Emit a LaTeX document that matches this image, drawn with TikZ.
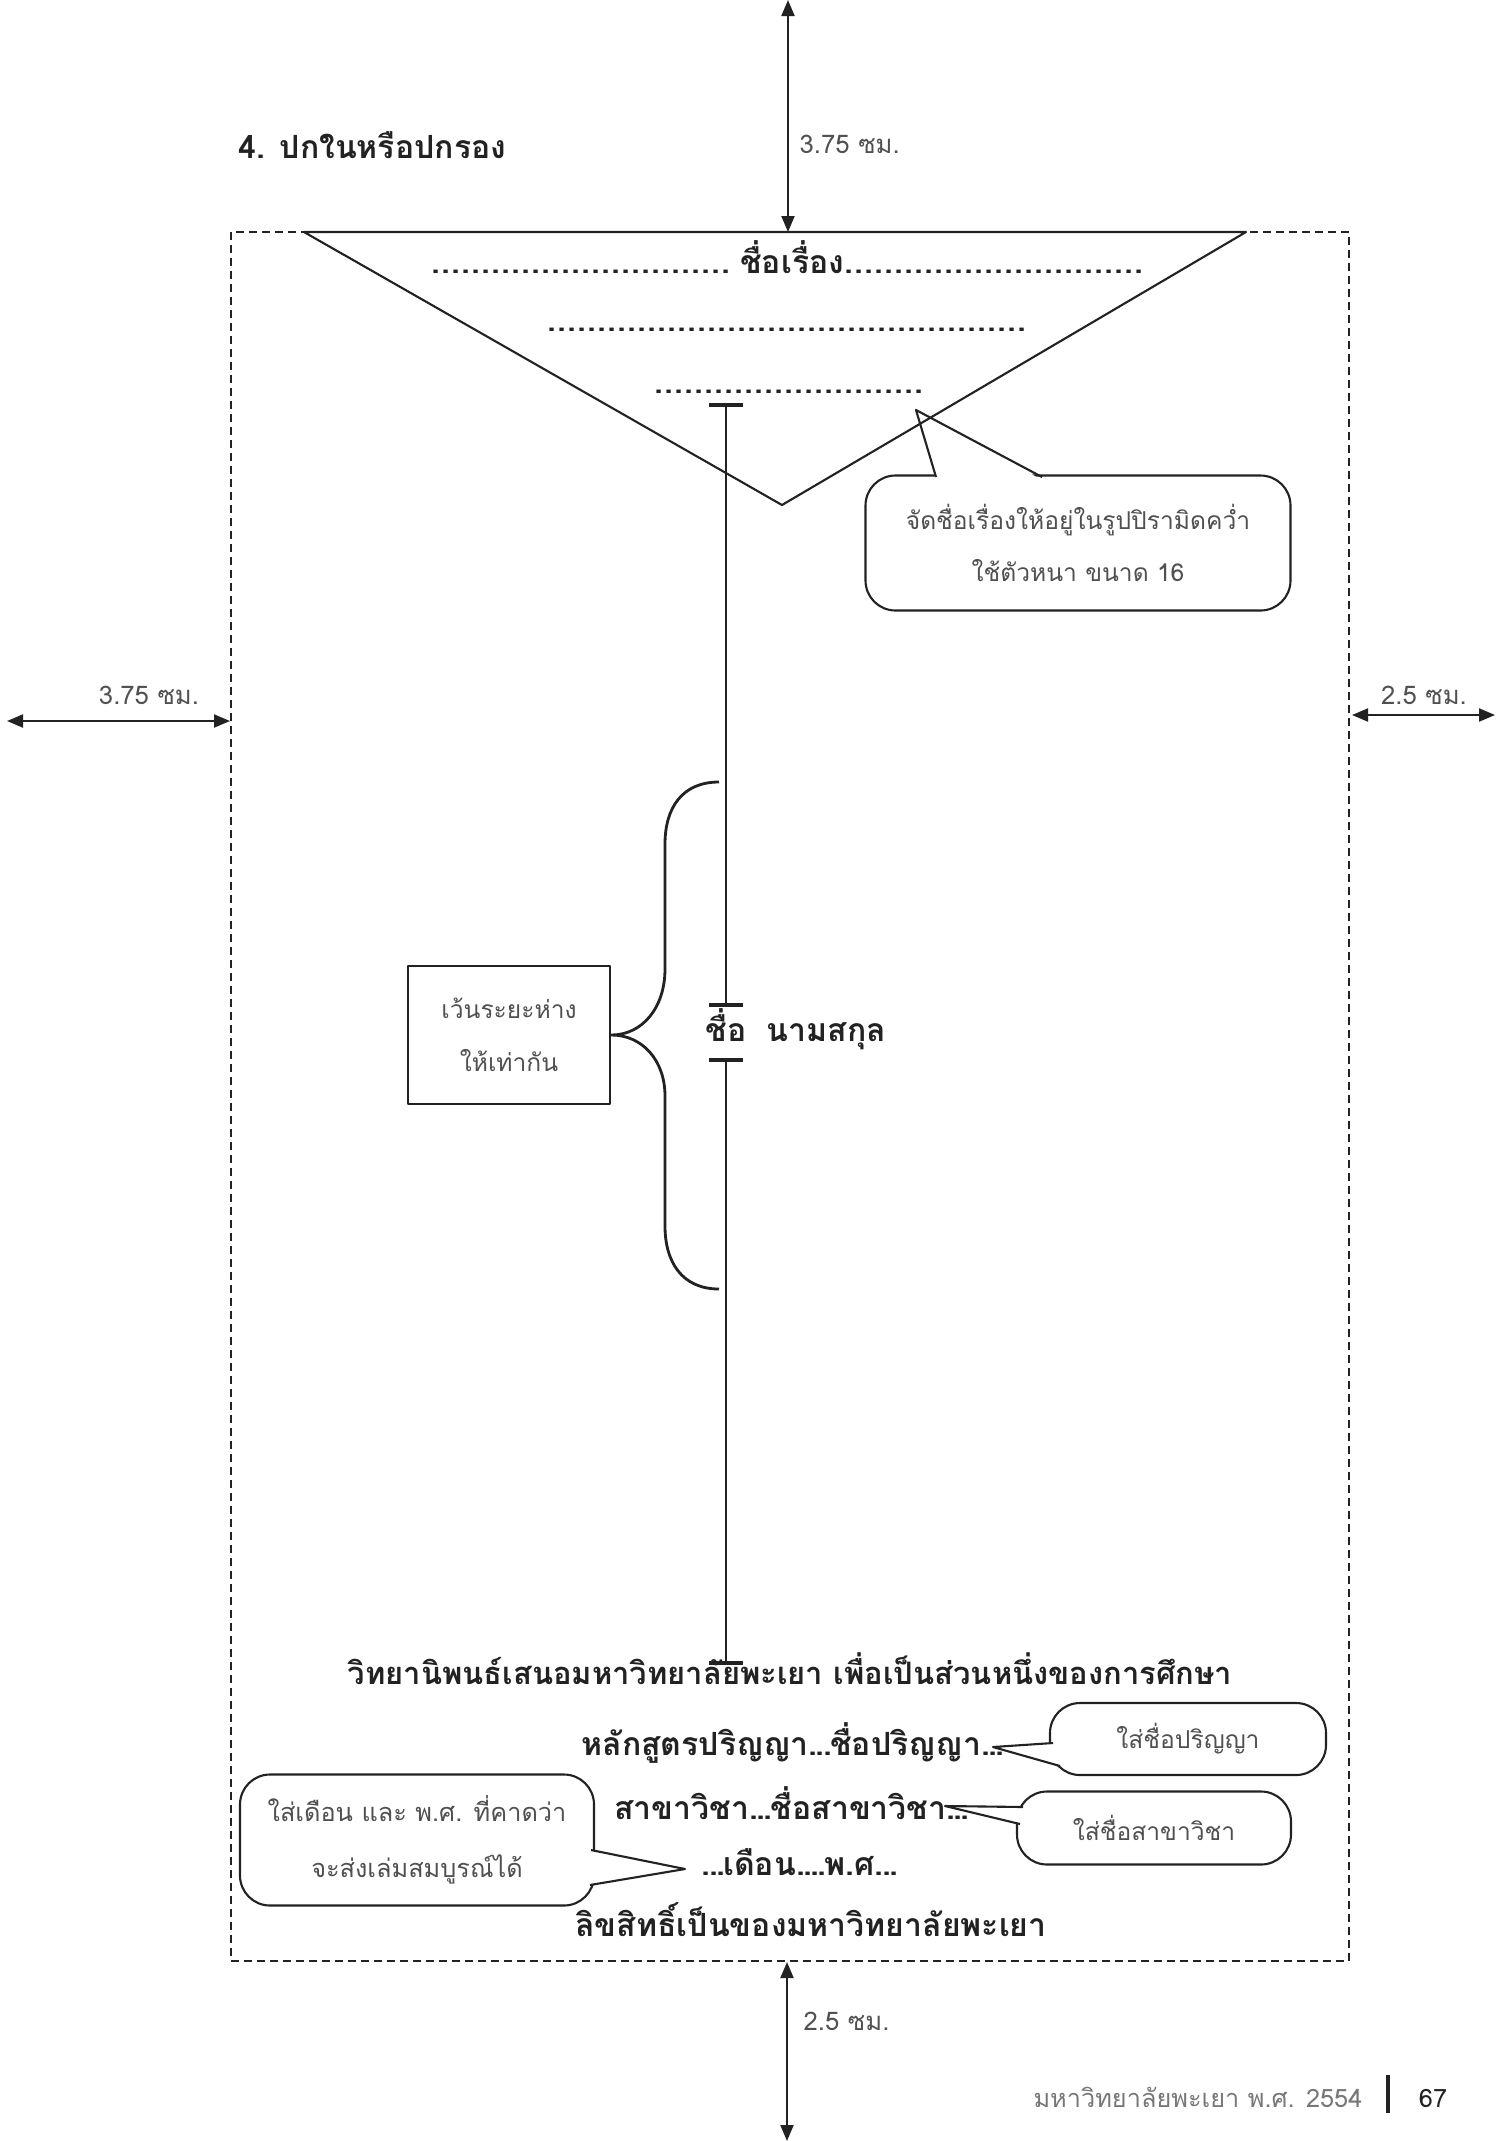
\documentclass[tikz,border=0pt]{standalone}
\usepackage{fontspec}
\newfontfamily\thai[Script=Thai]{Loma}
\usetikzlibrary{arrows.meta}

\definecolor{tinta}{HTML}{222222}
\definecolor{gristexto}{HTML}{505050}
\definecolor{grispie}{HTML}{777777}

% fila de puntos de ancho fijo
\newcommand{\puntos}[1]{\hbox to #1{\leaders\hbox to 0.1cm{\hss.\hss}\hfill}}
% punto estrecho
\newcommand{\punto}{.\kern-0.5pt}

\tikzset{
  negrita/.style={font=\thai\bfseries\fontsize{9.1}{11}\selectfont, text=tinta, inner sep=0pt, anchor=base},
  nota/.style={font=\thai\fontsize{7}{15}\selectfont, text=gristexto, align=center},
  medidatxt/.style={font=\thai\fontsize{7.3}{9}\selectfont, text=gristexto, inner sep=0pt, anchor=base west},
  globo/.style={draw=tinta, line width=0.6pt, rounded corners=0.3cm, fill=white, inner sep=0pt},
  medida/.style={{Triangle[length=1.6mm,width=1.3mm]}-{Triangle[length=1.6mm,width=1.3mm]}, line width=0.6pt, draw=tinta},
  barra/.style={line width=1.3pt, draw=tinta},
  trazo/.style={line width=0.8pt, draw=tinta},
}

\begin{document}
\begin{tikzpicture}[line join=round]

    % Hoja completa
    \useasboundingbox (0,0) rectangle (15.03,-21.41);

    % Título de la sección
    \node[negrita, anchor=base west] (seccion) at (2.38,-1.58) {4. ปกในหรือปกรอง};

    % Área de texto (línea discontinua)
    \draw[tinta, line width=0.6pt, dash pattern=on 0.08cm off 0.05cm] (2.31,-2.32) rectangle (13.49,-19.61);

    % Márgenes con flechas
    \coordinate (arribaA) at (7.88,0);
    \coordinate (arribaB) at (7.88,-2.32);
    \draw[medida] (arribaA) -- (arribaB);
    \node[medidatxt] (medArriba) at (7.99,-1.53) {3.75 ซม.};

    \coordinate (izqA) at (0.07,-7.21);
    \coordinate (izqB) at (2.30,-7.21);
    \draw[medida] (izqA) -- (izqB);
    \node[medidatxt, anchor=base] (medIzq) at (1.49,-7.04) {3.75 ซม.};

    \coordinate (derA) at (13.52,-7.15);
    \coordinate (derB) at (14.95,-7.15);
    \draw[medida] (derA) -- (derB);
    \node[medidatxt, anchor=base] (medDer) at (14.24,-7.04) {2.5 ซม.};

    \coordinate (abajoA) at (7.87,-19.62);
    \coordinate (abajoB) at (7.87,-21.41);
    \draw[medida] (abajoA) -- (abajoB);
    \node[medidatxt] (medAbajo) at (8.03,-20.30) {2.5 ซม.};

    % Globo del título
    \node[globo, nota, minimum width=4.25cm, minimum height=1.35cm] (globoTema) at (10.78,-5.43) {จัดชื่อเรื่องให้อยู่ในรูปปิรามิดคว่ำ\\ใช้ตัวหนา ขนาด 16};
    \coordinate (puntaTema) at (9.16,-4.10);
    \fill[white] (9.36,-4.80) -- (puntaTema) -- (10.42,-4.80) -- cycle;
    \draw[tinta, line width=0.6pt] (9.36,-4.77) -- (puntaTema) -- (10.42,-4.77);

    % Pirámide invertida
    \coordinate (piramideA) at (3.04,-2.32);
    \coordinate (piramideB) at (12.46,-2.32);
    \coordinate (piramideC) at (7.82,-5.05);
    \draw[tinta, line width=0.6pt] (piramideA) -- (piramideC) -- (piramideB) -- cycle;

    % Líneas del nombre de la tesis
    \node[negrita] (tema1) at (7.92,-2.73) {\puntos{3.09cm}ชื่อเรื่อง\puntos{3.09cm}};
    \node[negrita] (tema2) at (7.91,-3.31) {\puntos{4.88cm}};
    \node[negrita] (tema3) at (7.91,-3.93) {\puntos{2.74cm}};

    % Eje de espacios iguales
    \coordinate (eje1) at (7.26,-4.05);
    \coordinate (eje2) at (7.26,-10.05);
    \coordinate (eje3) at (7.26,-10.60);
    \coordinate (eje4) at (7.26,-16.63);
    \draw[trazo] (eje1) -- (eje2);
    \draw[trazo] (eje3) -- (eje4);
    \draw[barra] ([xshift=-0.17cm]eje1) -- ([xshift=0.17cm]eje1);
    \draw[barra] ([xshift=-0.17cm]eje2) -- ([xshift=0.17cm]eje2);
    \draw[barra] ([xshift=-0.17cm]eje3) -- ([xshift=0.17cm]eje3);
    \draw[barra] ([xshift=-0.17cm]eje4) -- ([xshift=0.17cm]eje4);

    % Nombre del autor
    \node[negrita, anchor=base west] (nombre) at (7.05,-10.41) {ชื่อ\hspace{0.2cm}นามสกุล};

    % Caja y llave
    \node[trazo, nota, minimum width=2.02cm, minimum height=1.38cm, inner sep=0pt] (caja) at (5.09,-10.35) {เว้นระยะห่าง\\ให้เท่ากัน};
    \draw[trazo] (7.19,-7.82) .. controls (6.82,-7.82) and (6.65,-8.08) .. (6.65,-8.44)
        -- (6.65,-9.69) .. controls (6.65,-10.08) and (6.42,-10.35) .. (caja.east)
        .. controls (6.42,-10.35) and (6.65,-10.60) .. (6.65,-10.96)
        -- (6.65,-12.26) .. controls (6.65,-12.62) and (6.82,-12.89) .. (7.19,-12.89);

    % Textos inferiores
    \node[negrita, font=\thai\bfseries\fontsize{8.8}{11}\selectfont] (tesis) at (7.90,-16.84) {วิทยานิพนธ์เสนอมหาวิทยาลัยพะเยา เพื่อเป็นส่วนหนึ่งของการศึกษา};
    \node[negrita] (grado) at (7.92,-17.55) {หลักสูตรปริญญา\punto\punto\punto ชื่อปริญญา\punto\punto\punto};
    \node[negrita] (rama) at (7.91,-18.19) {สาขาวิชา\punto\punto\punto ชื่อสาขาวิชา\punto\punto\punto};
    \node[negrita] (fecha) at (7.99,-18.75) {\punto\punto\punto เดือน\punto\punto\punto\punto พ.ศ\punto\punto\punto};
    \node[negrita] (derechos) at (8.11,-19.36) {ลิขสิทธิ์เป็นของมหาวิทยาลัยพะเยา};

    % Globo del grado
    \node[globo, nota, minimum width=2.76cm, minimum height=0.72cm] (globoGrado) at (11.88,-17.39) {ใส่ชื่อปริญญา};
    \coordinate (puntaGrado) at (9.93,-17.47);
    \fill[white] (10.53,-17.43) -- (puntaGrado) -- (10.60,-17.66) -- cycle;
    \draw[tinta, line width=0.6pt] (10.53,-17.43) -- (puntaGrado) -- (10.60,-17.66);

    % Globo de la rama
    \node[globo, nota, minimum width=2.74cm, minimum height=0.73cm] (globoRama) at (11.54,-18.28) {ใส่ชื่อสาขาวิชา};
    \coordinate (puntaRama) at (9.45,-18.06);
    \fill[white] (10.23,-18.07) -- (puntaRama) -- (10.20,-18.24) -- cycle;
    \draw[tinta, line width=0.6pt] (10.23,-18.07) -- (puntaRama) -- (10.20,-18.24);

    % Globo de la fecha
    \node[globo, nota, font=\thai\fontsize{7.2}{16}\selectfont, minimum width=3.54cm, minimum height=1.31cm] (globoFecha) at (4.17,-18.40) {ใส่เดือน และ พ.ศ. ที่คาดว่า\\จะส่งเล่มสมบูรณ์ได้};
    \coordinate (puntaFecha) at (6.85,-18.69);
    \fill[white] (5.91,-18.50) -- (puntaFecha) -- (5.90,-18.85) -- cycle;
    \draw[tinta, line width=0.6pt] (5.91,-18.50) -- (puntaFecha) -- (5.90,-18.85);

    % Pie de página
    \node[font=\thai\fontsize{7.2}{9}\selectfont, text=grispie, inner sep=0pt, anchor=base east] (pie) at (13.63,-21.07) {มหาวิทยาลัยพะเยา พ.ศ. 2554};
    \coordinate (separaA) at (13.88,-20.75);
    \coordinate (separaB) at (13.88,-21.13);
    \draw[line width=1.2pt, tinta] (separaA) -- (separaB);
    \node[font=\thai\fontsize{7.2}{9}\selectfont, text=tinta, inner sep=0pt, anchor=base] (pagina) at (14.33,-21.07) {67};

\end{tikzpicture}
\end{document}
